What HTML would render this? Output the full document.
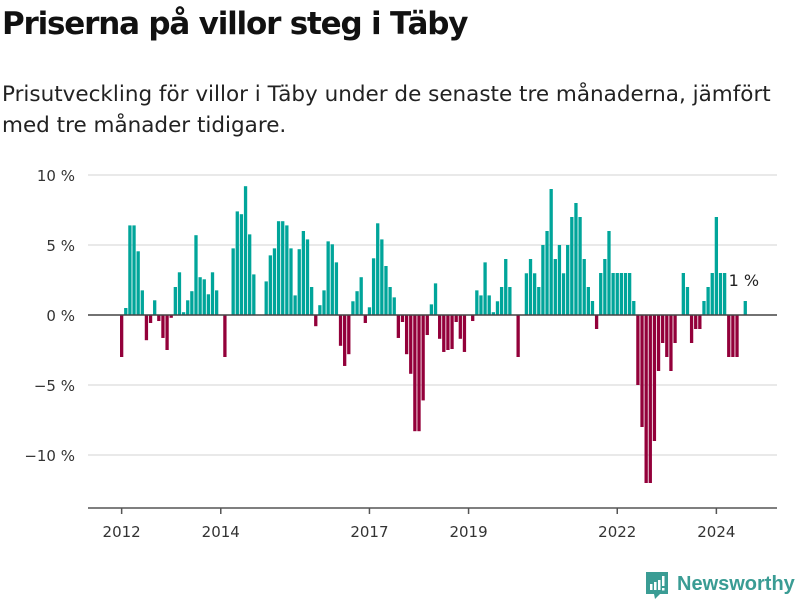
<!DOCTYPE html>
<html><head><meta charset="utf-8"><style>
body{margin:0;background:#fff;font-family:"Liberation Sans","DejaVu Sans",sans-serif;}
#wrap{position:relative;width:800px;height:600px;overflow:hidden;}
h1{position:absolute;left:2px;top:6px;margin:0;font-size:31px;font-weight:bold;color:#111;font-family:"DejaVu Sans","Liberation Sans",sans-serif;letter-spacing:-1.2px;}
.sub{position:absolute;left:2px;top:79px;margin:0;font-size:21.5px;line-height:31px;color:#222;font-family:"DejaVu Sans","Liberation Sans",sans-serif;letter-spacing:0px;}
svg{position:absolute;left:0;top:0;}
</style></head><body>
<div id="wrap">
<h1>Priserna på villor steg i Täby</h1>
<p class="sub">Prisutveckling för villor i Täby under de senaste tre månaderna, jämfört<br>med tre månader tidigare.</p>
<svg id="chart" width="800" height="600"></svg>
</div>
<script>
const startYear = 2012;
const values = [
-3.0,0.5,6.4,6.4,4.55,1.76,-1.8,-0.57,1.05,-0.43,-1.64,-2.5,
-0.2,2.0,3.05,0.2,1.05,1.7,5.7,2.7,2.55,1.48,3.05,1.76,
0,-3.0,0,4.76,7.4,7.2,9.2,5.76,2.9,0,0,2.4,
4.26,4.76,6.7,6.7,6.4,4.76,1.4,4.7,6.0,5.4,2.0,-0.8,
0.7,1.76,5.26,5.05,3.76,-2.2,-3.64,-2.8,0.98,1.7,2.7,-0.57,
0.55,4.05,6.55,5.4,3.5,2.0,1.26,-1.64,-0.5,-2.8,-4.2,-8.3,
-8.3,-6.1,-1.43,0.76,2.26,-1.7,-2.64,-2.5,-2.43,-0.5,-1.7,-2.64,
0,-0.43,1.76,1.4,3.76,1.4,0.2,0.98,2.0,4.0,2.0,0,
-3.0,0,2.98,4.0,2.98,2.0,5.0,6.0,9.0,4.0,5.0,2.98,
5.0,7.0,8.0,7.0,4.0,2.0,1.0,-1.0,3.0,4.0,6.0,3.0,
3.0,3.0,3.0,3.0,1.0,-5.0,-8.0,-12.0,-12.0,-9.0,-4.0,-2.0,
-3.0,-4.0,-2.0,0,3.0,2.0,-2.0,-1.0,-1.0,1.0,2.0,3.0,
7.0,3.0,3.0,-3.0,-3.0,-3.0,0,1.0
];
const yTicks = [10,5,0,-5,-10];
const yTickLabels = ["10 %","5 %","0 %","−5 %","−10 %"];
const xTickYears = [2012,2014,2017,2019,2022,2024];
const lastLabel = "1 %";

const NS="http://www.w3.org/2000/svg";
const svg=document.getElementById('chart');
const y0=315, pxPer=14, x0=120, step=4.13, bw=3.3;
const yS=v=>y0-v*pxPer;
const xS=i=>x0+i*step;
function mk(t,a){const e=document.createElementNS(NS,t);for(const k in a)e.setAttribute(k,a[k]);svg.appendChild(e);return e;}
yTicks.forEach((t,k)=>{
  if(t!==0){const g=mk('line',{x1:88,x2:777,y1:yS(t),y2:yS(t),stroke:'#e2e2e2','stroke-width':1.5});
  
  }
  const l=mk('text',{x:75,y:yS(t)+6,'text-anchor':'end','font-size':15,fill:'#333','font-family':'DejaVu Sans, Liberation Sans, sans-serif'});
  l.textContent=yTickLabels[k];
  
  
});
values.forEach((v,i)=>{
  if(v===0)return;
  const r=mk('rect',{x:xS(i),width:bw,y:Math.min(yS(v),y0),height:Math.abs(v)*pxPer,fill:v>0?'#00a59a':'#93003a'});
  
  
});
const zl=mk('line',{x1:88,x2:777,y1:y0,y2:y0,stroke:'#444','stroke-width':1.5});


const ax=mk('line',{x1:88,x2:777,y1:508,y2:508,stroke:'#555','stroke-width':1.5});


xTickYears.forEach(yr=>{
  const cx=xS((yr-startYear)*12)+bw/2;
  const t=mk('line',{x1:cx,x2:cx,y1:508,y2:514,stroke:'#555','stroke-width':1.5});
  
  
  const l=mk('text',{x:cx,y:537,'text-anchor':'middle','font-size':15,fill:'#333','font-family':'DejaVu Sans, Liberation Sans, sans-serif'});
  l.textContent=yr;
  
  
});
const li=values.length-1;
const ll=mk('text',{x:xS(li)-15,y:yS(values[li])-15,'font-size':16,fill:'#222','font-family':'DejaVu Sans, Liberation Sans, sans-serif'});
ll.textContent=lastLabel;


const g=mk('g',{});


g.innerHTML='<path d="M646 572 h22 v22 h-8 l-5 5 l-1 -5 h-8 z" fill="#3a9c94"/><rect x="650" y="584" width="2.5" height="6" fill="#fff"/><rect x="654" y="582" width="2.5" height="8" fill="#fff"/><rect x="658" y="580" width="2.5" height="10" fill="#fff"/><rect x="662" y="576" width="2.5" height="10" fill="#fff"/><rect x="662" y="588" width="2.5" height="2.5" fill="#fff"/><text x="677" y="590" font-size="20" font-weight="bold" fill="#3a9c94" font-family="Liberation Sans, sans-serif">Newsworthy</text>';
</script>
</body></html>
